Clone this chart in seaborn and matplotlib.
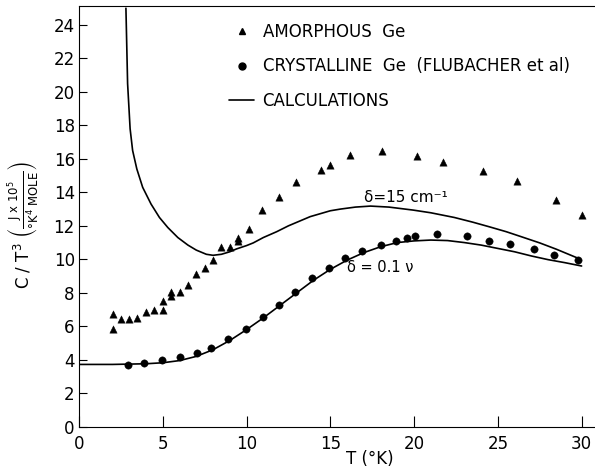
import numpy as np
import pandas as pd
import matplotlib
matplotlib.use("Agg")
import matplotlib.pyplot as plt
import seaborn as sns
from matplotlib.lines import Line2D

# amorphous Ge (triangles)
amor_T = [2.0, 2.0, 2.5, 3.0, 3.45, 4.0, 4.5, 5.0, 5.0, 5.5, 5.5, 6.0, 6.5, 7.0, 7.5, 8.0,
          8.45, 9.0, 9.5, 9.5, 10.15, 10.95, 11.95, 12.95, 14.45, 15.0, 16.2, 18.1,
          20.15, 21.75, 24.1, 26.15, 28.5, 30.0]
amor_C = [6.73, 5.84, 6.41, 6.41, 6.49, 6.85, 6.97, 7.53, 6.97, 8.05, 7.81, 8.05, 8.47, 9.15, 9.47, 9.93,
          10.73, 10.73, 11.25, 11.1, 11.79, 12.94, 13.7, 14.6, 15.36, 15.66, 16.21, 16.49,
          16.15, 15.83, 15.29, 14.68, 13.54, 12.62]

# crystalline Ge (Flubacher et al)
cryst_T = [2.9, 3.9, 4.95, 6.0, 7.05, 7.9, 8.9, 9.95, 11.0, 11.95, 12.9, 13.9, 14.9, 15.9,
           16.9, 18.0, 18.95, 19.55, 20.05, 21.35, 23.15, 24.5, 25.75, 27.15, 28.35, 29.8]
cryst_C = [3.70, 3.82, 3.98, 4.14, 4.38, 4.72, 5.24, 5.82, 6.57, 7.29, 8.07, 8.86, 9.46, 10.10,
           10.50, 10.87, 11.09, 11.27, 11.41, 11.51, 11.39, 11.11, 10.90, 10.62, 10.26, 9.96]

# calculation, delta = 15 cm-1
calc1_T = [2.8, 2.9, 3.05, 3.2, 3.45, 3.8, 4.3, 4.8, 5.3, 5.9, 6.5, 7.0, 7.6, 8.0, 8.5, 9.0,
           9.4, 10.0, 10.4, 11.0, 11.8, 12.5, 13.8, 15.0, 15.6, 16.5, 17.4, 18.5, 19.95, 21.0,
           22.4, 23.5, 24.5, 25.5, 26.4, 27.5, 28.5, 29.8]
calc1_C = [25.0, 20.5, 17.8, 16.5, 15.4, 14.3, 13.3, 12.5, 11.9, 11.3, 10.85, 10.55, 10.3, 10.24,
           10.3, 10.45, 10.62, 10.82, 10.98, 11.3, 11.65, 12.0, 12.55, 12.9, 13.0, 13.12, 13.18,
           13.12, 12.94, 12.78, 12.5, 12.22, 11.94, 11.65, 11.35, 10.98, 10.6, 10.06]

# calculation, delta = 0.1 nu
calc2_T = [0, 2, 4, 5, 6, 7, 8, 9, 10, 11, 12, 13, 14, 15, 16, 17, 18, 19, 20, 21, 22, 23,
           24, 25, 26, 27, 28, 29, 30]
calc2_C = [3.72, 3.72, 3.76, 3.82, 3.95, 4.2, 4.6, 5.15, 5.8, 6.5, 7.25, 8.0, 8.75, 9.4, 9.95,
           10.4, 10.75, 11.0, 11.1, 11.15, 11.12, 11.0, 10.85, 10.65, 10.45, 10.2, 9.98, 9.8, 9.6]

sns.set_style("ticks")
plt.rcParams["font.family"] = ["DejaVu Sans"]
plt.rcParams["mathtext.fontset"] = "dejavusans"
plt.rcParams["text.color"] = "black"
plt.rcParams["axes.labelcolor"] = "black"

fig = plt.figure(figsize=(5.95, 4.69), dpi=100)
ax = fig.add_axes([0.1328, 0.0902, 0.8672, 0.8976])

sns.lineplot(x=calc1_T, y=calc1_C, ax=ax, color="black", lw=1.2, sort=False)
sns.lineplot(x=calc2_T, y=calc2_C, ax=ax, color="black", lw=1.2, sort=False)
sns.scatterplot(x=amor_T, y=amor_C, ax=ax, marker="^", color="black", s=28, edgecolor="black", linewidth=0.3)
sns.scatterplot(x=cryst_T, y=cryst_C, ax=ax, marker="o", color="black", s=28, edgecolor="black", linewidth=0.3)

ax.set_xlim(0, 30.8)
ax.set_ylim(0, 25.15)
ax.set_xticks(range(0, 31, 5))
ax.set_yticks(range(0, 25, 2))
ax.tick_params(direction="in", labelsize=12, colors="black", width=0.8)
ax.tick_params(axis="x", length=8, pad=6)
ax.tick_params(axis="y", length=6, pad=3)
for side in ["left", "bottom", "top"]:
    ax.spines[side].set_visible(True)
    ax.spines[side].set_linewidth(0.8)
    ax.spines[side].set_color("black")
ax.spines["right"].set_visible(False)

ax.set_xlabel("T (°K)", fontsize=12)
ax.xaxis.set_label_coords(0.564, -0.055)
ax.set_ylabel(r"C / T$^3$ $\left(\frac{\mathrm{J\ x\ 10^5}}{\mathrm{°K^4\ MOLE}}\right)$", fontsize=12)
ax.yaxis.set_label_coords(-0.074, 0.48)

ax.text(19.5, 13.7, "δ=15 cm⁻¹", fontsize=11, ha="center", va="center")
ax.text(18.0, 9.5, "δ = 0.1 ν", fontsize=10.5, ha="center", va="center")

handles = [
    Line2D([], [], marker="^", color="black", ls="", ms=5),
    Line2D([], [], marker="o", color="black", ls="", ms=5),
    Line2D([], [], color="black", lw=1.2),
]
labels = ["AMORPHOUS  Ge", "CRYSTALLINE  Ge  (FLUBACHER et al)", "CALCULATIONS"]
ax.legend(handles, labels, loc="upper left", bbox_to_anchor=(0.262, 0.995), frameon=False,
          fontsize=12, handlelength=1.5, handletextpad=0.5, labelspacing=1.0)

fig.savefig("out.png", dpi=100)
